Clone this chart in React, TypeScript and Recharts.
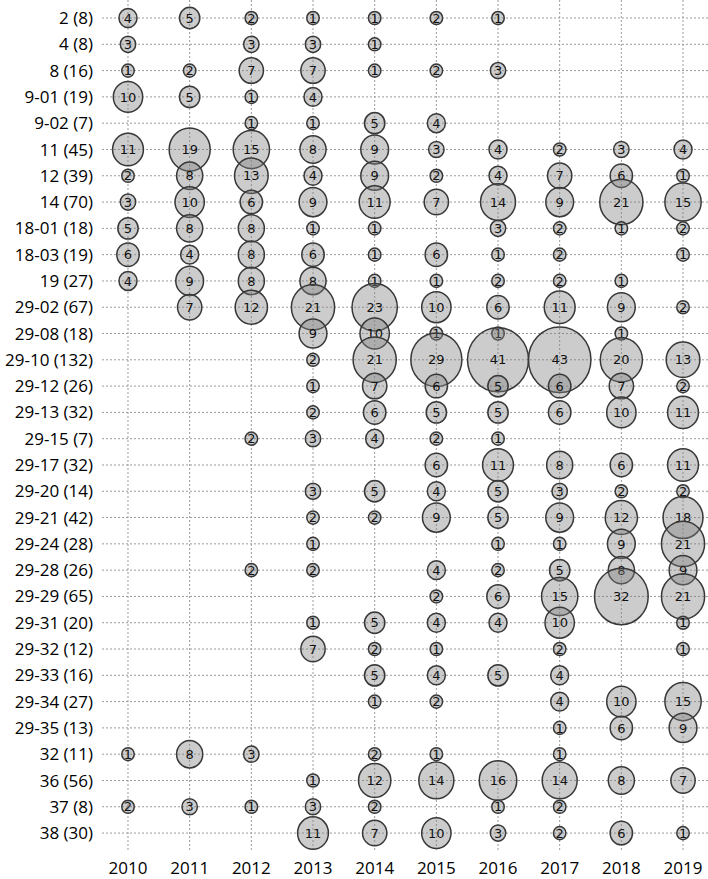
import { ScatterChart, Scatter, XAxis, YAxis, CartesianGrid } from 'recharts';

const years = ['2010', '2011', '2012', '2013', '2014', '2015', '2016', '2017', '2018', '2019'];

const rowLabels = [
  '2 (8)', '4 (8)', '8 (16)', '9-01 (19)', '9-02 (7)', '11 (45)', '12 (39)', '14 (70)',
  '18-01 (18)', '18-03 (19)', '19 (27)', '29-02 (67)', '29-08 (18)', '29-10 (132)',
  '29-12 (26)', '29-13 (32)', '29-15 (7)', '29-17 (32)', '29-20 (14)', '29-21 (42)',
  '29-24 (28)', '29-28 (26)', '29-29 (65)', '29-31 (20)', '29-32 (12)', '29-33 (16)',
  '29-34 (27)', '29-35 (13)', '32 (11)', '36 (56)', '37 (8)', '38 (30)',
];

// one row per label, one column per year (null = no bubble)
const _ = null;
const counts: (number | null)[][] = [
  [4, 5, 2, 1, 1, 2, 1, _, _, _],
  [3, _, 3, 3, 1, _, _, _, _, _],
  [1, 2, 7, 7, 1, 2, 3, _, _, _],
  [10, 5, 1, 4, _, _, _, _, _, _],
  [_, _, 1, 1, 5, 4, _, _, _, _],
  [11, 19, 15, 8, 9, 3, 4, 2, 3, 4],
  [2, 8, 13, 4, 9, 2, 4, 7, 6, 1],
  [3, 10, 6, 9, 11, 7, 14, 9, 21, 15],
  [5, 8, 8, 1, 1, _, 3, 2, 1, 2],
  [6, 4, 8, 6, 1, 6, 1, 2, _, 1],
  [4, 9, 8, 8, 1, 1, 2, 2, 1, _],
  [_, 7, 12, 21, 23, 10, 6, 11, 9, 2],
  [_, _, _, 9, 10, 1, 1, _, 1, _],
  [_, _, _, 2, 21, 29, 41, 43, 20, 13],
  [_, _, _, 1, 7, 6, 5, 6, 7, 2],
  [_, _, _, 2, 6, 5, 5, 6, 10, 11],
  [_, _, 2, 3, 4, 2, 1, _, _, _],
  [_, _, _, _, _, 6, 11, 8, 6, 11],
  [_, _, _, 3, 5, 4, 5, 3, 2, 2],
  [_, _, _, 2, 2, 9, 5, 9, 12, 18],
  [_, _, _, 1, _, _, 1, 1, 9, 21],
  [_, _, 2, 2, _, 4, 2, 5, 8, 9],
  [_, _, _, _, _, 2, 6, 15, 32, 21],
  [_, _, _, 1, 5, 4, 4, 10, _, 1],
  [_, _, _, 7, 2, 1, _, 2, _, 1],
  [_, _, _, _, 5, 4, 5, 4, _, _],
  [_, _, _, _, 1, 2, _, 4, 10, 15],
  [_, _, _, _, _, _, _, 1, 6, 9],
  [1, 8, 3, _, 2, 1, _, 1, _, _],
  [_, _, _, 1, 12, 14, 16, 14, 8, 7],
  [2, 3, 1, 3, 2, _, 1, 2, _, _],
  [_, _, _, 11, 7, 10, 3, 2, 6, 1],
];

type Point = { x: number; y: number; v: number };

const points: Point[] = [];
counts.forEach((row, r) =>
  row.forEach((v, c) => {
    if (v != null) points.push({ x: c, y: r, v });
  }),
);

// area ~ count, with a floor so the single-digit labels still fit
const radius = (v: number) => Math.max(7, 4.88 * Math.sqrt(v)) - 0.75;

function Bubble(props: any) {
  const { cx, cy, payload } = props;
  const r = radius(payload.v);
  return (
    <g>
      <ellipse cx={cx} cy={cy} rx={r} ry={r * 1.05} fill="#808080" fillOpacity={0.4}
        stroke="#383838" strokeWidth={1.5} />
      <text x={cx} y={cy} dy="0.36em" textAnchor="middle" fontSize={13}
        fontFamily="DejaVu Sans" fill="#111">{payload.v}</text>
    </g>
  );
}

const tickStyle = { fontSize: 17, fontFamily: 'Open Sans', fill: '#000' };

export default function App() {
  return (
    <div style={{ position: 'absolute', left: 0, top: 0, background: '#fff' }}>
      <ScatterChart width={708} height={879} margin={{ top: 0, right: 0, bottom: 0, left: 0 }}>
        <CartesianGrid stroke="#9a9a9a" strokeDasharray="2 2" syncWithTicks />
        <XAxis type="number" dataKey="x" domain={[-0.4216, 9.405]} ticks={years.map((_y, i) => i)}
          tickFormatter={(i: number) => years[i]} interval={0} axisLine={false} tickLine={false}
          tickSize={6} tickMargin={4} height={27} tick={tickStyle} allowDataOverflow />
        <YAxis type="number" dataKey="y" reversed domain={[-0.685, 31.72]}
          ticks={rowLabels.map((_l, i) => i)} tickFormatter={(i: number) => rowLabels[i]}
          interval={0} axisLine={false} tickLine={false} tickSize={6} tickMargin={3}
          width={102} tick={tickStyle} allowDataOverflow />
        <Scatter data={points} shape={Bubble} fill="#808080" isAnimationActive={false} />
      </ScatterChart>
    </div>
  );
}
